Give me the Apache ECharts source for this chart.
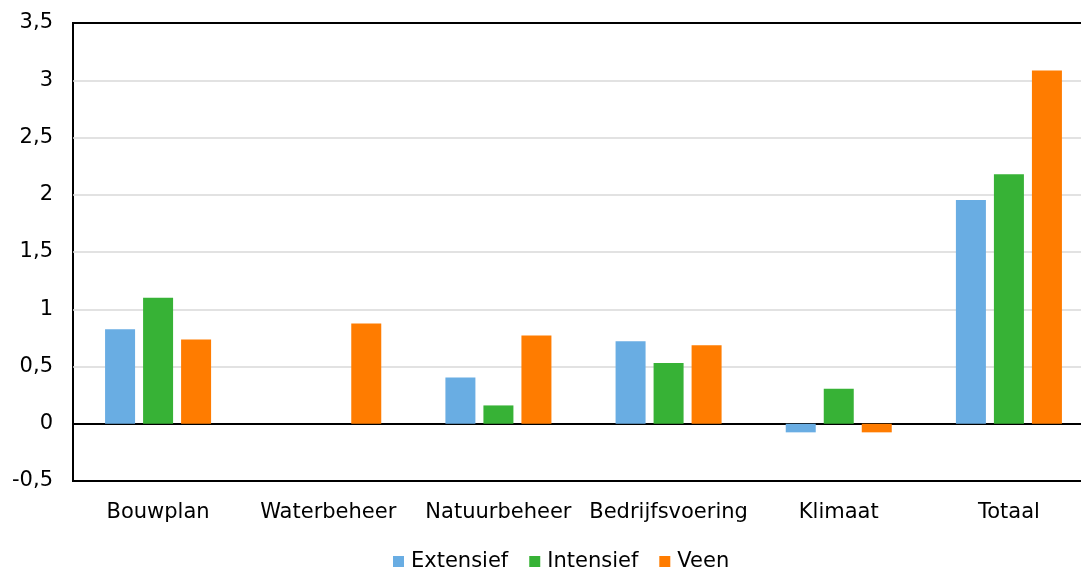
<!DOCTYPE html>
<html>
<head>
<meta charset="utf-8">
<script src="https://cdn.jsdelivr.net/npm/echarts@6/dist/echarts.min.js"></script>
<style>
html,body{margin:0;padding:0;background:#fff;}
#chart{width:1081px;height:571px;}
</style>
</head>
<body>
<div id="chart"></div>
<script>
const categories = ['Bouwplan', 'Waterbeheer', 'Natuurbeheer', 'Bedrijfsvoering', 'Klimaat', 'Totaal'];
const extensief = [0.825, 0, 0.405, 0.72, -0.075, 1.955];
const intensief = [1.10, 0, 0.16, 0.53, 0.305, 2.18];
const veen = [0.735, 0.875, 0.77, 0.685, -0.075, 3.085];
const seriesNames = ['Extensief', 'Intensief', 'Veen'];
const colors = ['#69ADE3', '#37B236', '#FF7C00'];

const fmt = v => String(v).replace('.', ',');
const font = 'DejaVu Sans, Verdana, sans-serif';

const chart = echarts.init(document.getElementById('chart'));
chart.setOption({
  animation: false,
  color: colors,
  textStyle: { fontFamily: font },
  grid: { left: 73, top: 23, width: 1021, height: 458, outerBoundsMode: 'none', show: true, borderColor: '#000', borderWidth: 2, containLabel: false },
  legend: {
    top: 546,
    left: 388,
    icon: 'rect',
    itemWidth: 11,
    itemHeight: 11,
    itemGap: 21,
    textStyle: { fontSize: 21, color: '#000', fontFamily: font, padding: [0, 0, 0, 2] },
    data: seriesNames
  },
  xAxis: [
    {
      type: 'category',
      data: categories,
      position: 'bottom',
      axisLine: { show: false, onZero: false },
      axisTick: { show: false },
      axisLabel: { fontSize: 21, color: '#000', margin: 21, fontFamily: font, interval: 0 },
      splitLine: { show: false }
    },
    {
      type: 'category',
      data: categories,
      position: 'top',
      axisLine: { show: true, onZero: true, lineStyle: { color: '#000', width: 2 } },
      axisTick: { show: false },
      axisLabel: { show: false },
      splitLine: { show: false }
    }
  ],
  yAxis: {
    type: 'value',
    min: -0.5,
    max: 3.5,
    interval: 0.5,
    axisLine: { show: false },
    axisTick: { show: false },
    axisLabel: { fontSize: 21, color: '#000', margin: 20, fontFamily: font, formatter: fmt },
    splitLine: { show: true, showMinLine: false, showMaxLine: false, lineStyle: { color: '#D9D9D9', width: 1.5 } }
  },
  series: [
    { name: seriesNames[0], type: 'bar', data: extensief, barWidth: 30, barGap: '26.7%', z: 1 },
    { name: seriesNames[1], type: 'bar', data: intensief, barWidth: 30, barGap: '26.7%', z: 1 },
    { name: seriesNames[2], type: 'bar', data: veen, barWidth: 30, barGap: '26.7%', z: 1 }
  ]
});
</script>
</body>
</html>
